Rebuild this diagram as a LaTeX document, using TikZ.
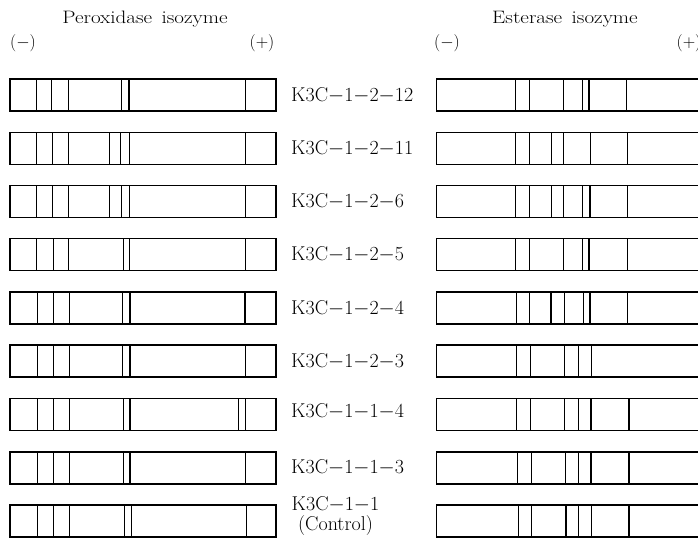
\documentclass[tikz,border=0pt]{standalone}
\usepackage{fontspec}
\tikzset{
	gel/.style={line width=1.3pt},
	bandthin/.style={line width=0.5pt},
	bandmid/.style={line width=0.9pt},
	bandthick/.style={line width=1.4pt},
	lanelabel/.style={anchor=west, inner sep=0pt, font=\fontsize{20}{24}\selectfont},
	header/.style={inner sep=0pt, font=\fontsize{18}{21}\selectfont},
	pole/.style={inner sep=0pt, font=\fontsize{19}{22}\selectfont}
}
\begin{document}
\begin{tikzpicture}[x=1pt, y=-1pt]
		\useasboundingbox (0,0) rectangle (698,546);
		\clip (0,0) rectangle (698,546);
		
		%Headings
		\node[header] (pertitle) at (145,19) {\scalebox{1.17}[1]{Peroxidase\hspace{0.45em}isozyme}};
		\node[header] (esttitle) at (565,19) {\scalebox{1.17}[1]{Esterase\hspace{0.45em}isozyme}};
		\node[pole] (perminus) at (23,43) {$(-)$};
		\node[pole] (perplus) at (262,43) {$(+)$};
		\node[pole] (estminus) at (447,43) {$(-)$};
		\node[pole] (estplus) at (689,43) {$(+)$};
		
		%One row: K3C-1-2-12
		\def\y{79}
		\draw[gel] (10,\y) rectangle (276,\y+32);
		\draw[bandthin] (36,\y) -- ++(0,32) (121.7,\y) -- ++(0,32);
		\draw[bandmid] (51.7,\y) -- ++(0,32) (245,\y) -- ++(0,32);
		\draw[bandthick] (68.3,\y) -- ++(0,32) (129,\y) -- ++(0,32);
		\node[lanelabel] (L1) at (291,\y+16) {K3C$-$1$-$2$-$12};
		\draw[gel] (436.5,\y) rectangle (712,\y+32);
		\draw[bandthin] (529,\y) -- ++(0,32);
		\draw[bandmid] (563.3,\y) -- ++(0,32) (582.7,\y) -- ++(0,32);
		\draw[bandthick] (515.7,\y) -- ++(0,32) (589,\y) -- ++(0,32) (626.7,\y) -- ++(0,32);
		
		%One row: K3C-1-2-11
		\def\y{132.5}
		\draw[gel] (10,\y) rectangle (276,\y+32);
		\draw[bandthin] (68.3,\y) -- ++(0,32) (109.3,\y) -- ++(0,32);
		\draw[bandmid] (36,\y) -- ++(0,32) (52.7,\y) -- ++(0,32) (120.7,\y) -- ++(0,32) (245,\y) -- ++(0,32);
		\draw[bandthick] (129.3,\y) -- ++(0,32);
		\node[lanelabel] (L2) at (291,\y+16) {K3C$-$1$-$2$-$11};
		\draw[gel] (436.5,\y) rectangle (712,\y+32);
		\draw[bandthin] (627.7,\y) -- ++(0,32);
		\draw[bandmid] (529,\y) -- ++(0,32) (551,\y) -- ++(0,32) (590,\y) -- ++(0,32);
		\draw[bandthick] (515.7,\y) -- ++(0,32) (563.3,\y) -- ++(0,32);
		
		%One row: K3C-1-2-6
		\def\y{185.5}
		\draw[gel] (10,\y) rectangle (276,\y+32);
		\draw[bandthin] (68.3,\y) -- ++(0,32);
		\draw[bandmid] (36,\y) -- ++(0,32) (52.7,\y) -- ++(0,32) (109.3,\y) -- ++(0,32) (121.7,\y) -- ++(0,32) (245,\y) -- ++(0,32);
		\draw[bandthick] (129.3,\y) -- ++(0,32);
		\node[lanelabel] (L3) at (291,\y+16) {K3C$-$1$-$2$-$6};
		\draw[gel] (436.5,\y) rectangle (712,\y+32);
		\draw[bandthin] (582.3,\y) -- ++(0,32);
		\draw[bandmid] (529,\y) -- ++(0,32) (551,\y) -- ++(0,32) (627.7,\y) -- ++(0,32);
		\draw[bandthick] (515.7,\y) -- ++(0,32) (563.3,\y) -- ++(0,32) (590,\y) -- ++(0,32);
		
		%One row: K3C-1-2-5
		\def\y{238.5}
		\draw[gel] (10,\y) rectangle (276,\y+32);
		\draw[bandthin] (68.3,\y) -- ++(0,32);
		\draw[bandmid] (36,\y) -- ++(0,32) (53.3,\y) -- ++(0,32) (123.3,\y) -- ++(0,32) (245,\y) -- ++(0,32);
		\draw[bandthick] (129.3,\y) -- ++(0,32);
		\node[lanelabel] (L4) at (291,\y+16) {K3C$-$1$-$2$-$5};
		\draw[gel] (436.5,\y) rectangle (712,\y+32);
		\draw[bandmid] (515.7,\y) -- ++(0,32) (529,\y) -- ++(0,32) (563.3,\y) -- ++(0,32) (582.3,\y) -- ++(0,32);
		\draw[bandthick] (589,\y) -- ++(0,32) (627.7,\y) -- ++(0,32);
		
		%One row: K3C-1-2-4
		\def\y{292}
		\draw[gel] (10,\y) rectangle (276,\y+32);
		\draw[bandthin] (37.3,\y) -- ++(0,32);
		\draw[bandmid] (53.3,\y) -- ++(0,32) (122.7,\y) -- ++(0,32);
		\draw[bandthick] (69.3,\y) -- ++(0,32) (130,\y) -- ++(0,32) (245,\y) -- ++(0,32);
		\node[lanelabel] (L5) at (291,\y+16) {K3C$-$1$-$2$-$4};
		\draw[gel] (436.5,\y) rectangle (712,\y+32);
		\draw[bandthin] (516.7,\y) -- ++(0,32) (529.3,\y) -- ++(0,32);
		\draw[bandmid] (564.3,\y) -- ++(0,32) (583.3,\y) -- ++(0,32);
		\draw[bandthick] (551,\y) -- ++(0,32) (590,\y) -- ++(0,32) (627.7,\y) -- ++(0,32);
		
		%One row: K3C-1-2-3
		\def\y{345}
		\draw[gel] (10,\y) rectangle (276,\y+32);
		\draw[bandthin] (53.3,\y) -- ++(0,32) (122.7,\y) -- ++(0,32);
		\draw[bandmid] (37.3,\y) -- ++(0,32) (245,\y) -- ++(0,32);
		\draw[bandthick] (69.3,\y) -- ++(0,32) (130,\y) -- ++(0,32);
		\node[lanelabel] (L6) at (291,\y+16) {K3C$-$1$-$2$-$3};
		\draw[gel] (436.5,\y) rectangle (712,\y+32);
		\draw[bandmid] (530,\y) -- ++(0,32) (578.3,\y) -- ++(0,32) (591,\y) -- ++(0,32);
		\draw[bandthick] (516.7,\y) -- ++(0,32) (564.3,\y) -- ++(0,32);
		
		%One row: K3C-1-1-4
		\def\y{398.5}
		\draw[gel] (10,\y) rectangle (276,\y+32);
		\draw[bandthin] (69.3,\y) -- ++(0,32) (245,\y) -- ++(0,32);
		\draw[bandmid] (37.3,\y) -- ++(0,32) (53.3,\y) -- ++(0,32) (123.3,\y) -- ++(0,32) (238.3,\y) -- ++(0,32);
		\draw[bandthick] (130,\y) -- ++(0,32);
		\node[lanelabel] (L7) at (291,\y+13) {K3C$-$1$-$1$-$4};
		\draw[gel] (436.5,\y) rectangle (712,\y+32);
		\draw[bandmid] (516.7,\y) -- ++(0,32) (530,\y) -- ++(0,32) (578.3,\y) -- ++(0,32);
		\draw[bandthick] (564.3,\y) -- ++(0,32) (591,\y) -- ++(0,32) (629,\y) -- ++(0,32);
		
		%One row: K3C-1-1-3
		\def\y{452}
		\draw[gel] (10,\y) rectangle (276,\y+32);
		\draw[bandthin] (69.3,\y) -- ++(0,32) (245,\y) -- ++(0,32);
		\draw[bandmid] (37.3,\y) -- ++(0,32) (53.3,\y) -- ++(0,32) (123.3,\y) -- ++(0,32);
		\draw[bandthick] (130,\y) -- ++(0,32);
		\node[lanelabel] (L8) at (291,\y+15) {K3C$-$1$-$1$-$3};
		\draw[gel] (436.5,\y) rectangle (712,\y+32);
		\draw[bandthin] (517.3,\y) -- ++(0,32) (565,\y) -- ++(0,32);
		\draw[bandmid] (531,\y) -- ++(0,32) (578.3,\y) -- ++(0,32);
		\draw[bandthick] (591,\y) -- ++(0,32) (629,\y) -- ++(0,32);
		
		%One row: K3C-1-1 (Control)
		\def\y{505}
		\draw[gel] (10,\y) rectangle (276,\y+32);
		\draw[bandthin] (37.3,\y) -- ++(0,32);
		\draw[bandmid] (53.3,\y) -- ++(0,32) (69.3,\y) -- ++(0,32) (124,\y) -- ++(0,32) (246,\y) -- ++(0,32);
		\draw[bandthick] (131.7,\y) -- ++(0,32);
		\node[lanelabel, anchor=center, align=center, font=\fontsize{20}{20}\selectfont] (L9) at (335.5,\y+11) {K3C$-$1$-$1\\(Control)};
		\draw[gel] (436.5,\y) rectangle (712,\y+32);
		\draw[bandthin] (578.3,\y) -- ++(0,32);
		\draw[bandmid] (531,\y) -- ++(0,32) (591.7,\y) -- ++(0,32);
		\draw[bandthick] (518.3,\y) -- ++(0,32) (566,\y) -- ++(0,32) (629,\y) -- ++(0,32);
		
	\end{tikzpicture}
\end{document}
